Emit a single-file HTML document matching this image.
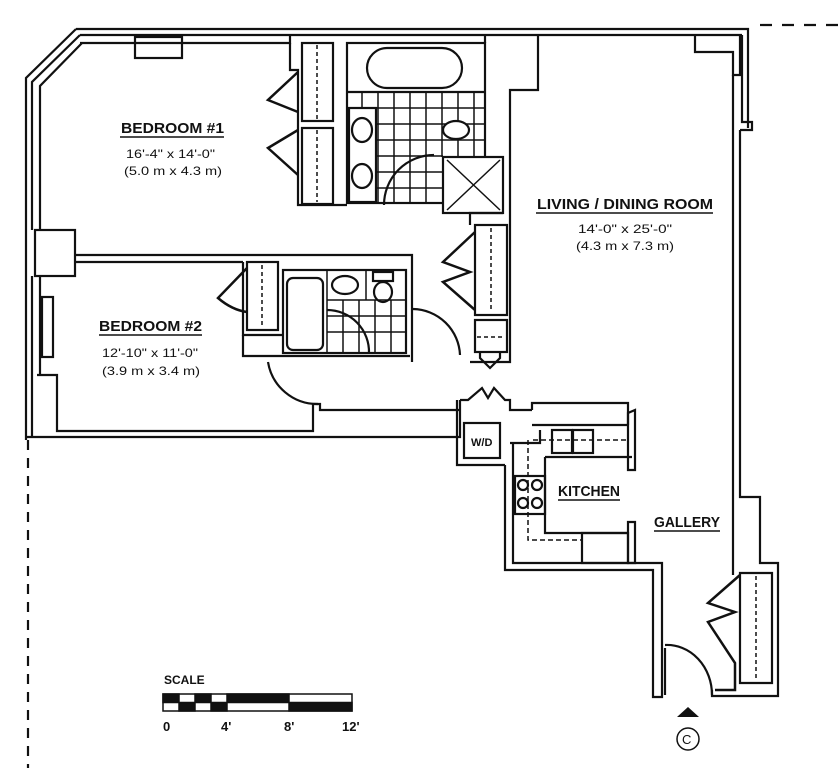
<!DOCTYPE html>
<html><head><meta charset="utf-8"><style>
html,body{margin:0;padding:0;background:#fff}
svg{display:block}
text{font-family:"Liberation Sans",sans-serif;fill:#111}
</style></head><body>
<svg width="838" height="768" viewBox="0 0 838 768" xmlns="http://www.w3.org/2000/svg">
<g fill="none" stroke="#111" stroke-width="2.2">
<path d="M76 29 L748 29 L748 128"/>
<path d="M80 35 L742 35"/>
<path d="M760 25 L838 25" stroke-dasharray="12 10"/>
<path d="M76 29 L26 78 L26 440"/>
<path d="M80 35 L32 82 L32 230"/>
<path d="M82 43 L40 86 L40 230"/>
<path d="M80 43 L290 43 L290 36"/>
<rect x="135" y="37" width="47" height="21"/>
<rect x="35" y="230" width="40" height="46"/>
<path d="M75 255 L412 255 L412 362"/>
<path d="M75 262 L243 262"/>
<path d="M32 276 L32 437"/>
<path d="M40 276 L40 375"/>
<rect x="42" y="297" width="11" height="60"/>
<path d="M37 375 L57 375 L57 431 L313 431 L313 404 L320 404 L320 410 L460 410"/>
<path d="M26 437 L460 437 L460 400"/>
<path d="M28 440 L28 768" stroke-dasharray="10 8"/>
<path d="M290 43 L290 70 L298 70 L298 205 L347 205"/>
<rect x="302" y="43" width="31" height="78"/>
<rect x="302" y="128" width="31" height="76"/>
<path d="M317 45 L317 119 M317 130 L317 202" stroke-dasharray="4 3" stroke-width="1.5"/>
<path d="M298 72 L268 100 L298 112 M298 130 L268 148 L298 175" stroke-width="2.5"/>
<rect x="347" y="43" width="138" height="160"/>
<path d="M347 92 L485 92"/>
<rect x="367" y="48" width="95" height="40" rx="20"/>
<g stroke-width="1.5">
<path d="M347 108 H485 M347 124 H485 M347 140 H485 M347 156 H443 M347 172 H443 M347 188 H443"/>
<path d="M362 92 V203 M378 92 V203 M394 92 V203 M410 92 V203 M426 92 V203 M442 92 V157 M458 92 V157 M474 92 V157"/>
</g>
<rect x="349" y="108" width="27" height="94" fill="#fff"/>
<ellipse cx="362" cy="130" rx="10" ry="12" fill="#fff"/>
<ellipse cx="362" cy="176" rx="10" ry="12" fill="#fff"/>
<ellipse cx="456" cy="130" rx="13" ry="9" fill="#fff"/>
<path d="M384 205 A50 50 0 0 1 434 155"/>
<rect x="443" y="157" width="60" height="56" fill="#fff"/>
<path d="M447 160 L500 210 M500 160 L447 210" stroke-width="1.5"/>
<path d="M485 36 L485 43 M538 35 L538 90 L510 90 L510 362 L470 362"/>
<path d="M503 213 L470 213 L470 225"/>
<rect x="475" y="225" width="32" height="90"/>
<path d="M491 228 L491 312" stroke-dasharray="4 3" stroke-width="1.5"/>
<path d="M475 232 L443 262 L470 272 L443 282 L475 310" stroke-width="2.5"/>
<rect x="475" y="320" width="32" height="32"/>
<path d="M477 337 L505 337" stroke-dasharray="4 3" stroke-width="1.5"/>
<path d="M480 352 L480 358 L490 368 L500 358 L500 352"/>
<path d="M243 262 L243 335 L283 335"/>
<rect x="247" y="262" width="31" height="68"/>
<path d="M262 265 L262 328" stroke-dasharray="4 3" stroke-width="1.5"/>
<path d="M247 268 L218 298 Q232 310 247 312" stroke-width="2.5"/>
<path d="M243 335 L243 356 L410 356"/>
<rect x="283" y="270" width="123" height="83"/>
<rect x="287" y="278" width="36" height="72" rx="6"/>
<g stroke-width="1.5">
<path d="M327 300 H406 M327 316 H406 M327 332 H406"/>
<path d="M343 300 V353 M359 300 V353 M375 300 V353 M391 300 V353 M327 270 V353 M366 270 V300"/>
</g>
<ellipse cx="345" cy="285" rx="13" ry="9"/>
<rect x="373" y="272" width="20" height="9"/>
<ellipse cx="383" cy="292" rx="9" ry="10"/>
<path d="M327 310 A42 42 0 0 1 369 353"/>
<path d="M413 309 A48 48 0 0 1 460 355"/>
<path d="M268 362 A50 50 0 0 0 318 404"/>
<path d="M460 400 L468 400 L482 388 L488 398 L494 388 L505 400 L510 400 L510 410 L532 410"/>
<path d="M457 400 L457 465 L505 465"/>
<rect x="464" y="423" width="36" height="35"/>
<path d="M532 410 L532 403 L628 403 L628 425"/>
<path d="M532 425 L628 425"/>
<path d="M628 413 L628 470 L635 470 L635 410 Z"/>
<path d="M510 443 L540 443 L540 430"/>
<path d="M505 465 L505 570 L653 570 L653 697 L662 697 L662 563 L513 563 L513 443"/>
<rect x="552" y="430" width="20" height="23"/>
<rect x="573" y="430" width="20" height="23"/>
<path d="M533 440 L628 440 M528 440 L528 540 L582 540" stroke-dasharray="5 3" stroke-width="1.5"/>
<rect x="515" y="476" width="30" height="38"/>
<circle cx="523" cy="485" r="5"/><circle cx="537" cy="485" r="5"/>
<circle cx="523" cy="503" r="5"/><circle cx="537" cy="503" r="5"/>
<path d="M545 457 L632 457 M545 457 L545 533 L628 533"/>
<rect x="582" y="533" width="46" height="30"/>
<path d="M628 522 L628 563 L635 563 L635 522 Z"/>
<path d="M695 35 L695 52 L733 52 L733 75 L740 75 L740 35"/>
<path d="M742 35 L742 122 L752 122 L752 130 L740 130"/>
<path d="M733 75 L733 575"/>
<path d="M740 130 L740 497 L760 497 L760 563 L778 563 L778 696 L712 696 L712 690"/>
<path d="M740 573 L772 573 L772 683 L740 683 Z"/>
<path d="M756 576 L756 680" stroke-dasharray="4 3" stroke-width="1.5"/>
<path d="M740 575 L708 603 L735 612 L708 622 L735 663 L735 690 L715 690" stroke-width="2.5"/>
<path d="M665 648 L665 695"/>
<path d="M665 645 A45 50 0 0 1 712 695"/>
</g>
<g font-size="14">
<text x="121" y="133" font-size="15" font-weight="bold" textLength="103" lengthAdjust="spacingAndGlyphs">BEDROOM #1</text>
<path d="M120 137 H224" stroke="#111" stroke-width="1.5"/>
<text x="126" y="158" font-size="12" textLength="89" lengthAdjust="spacingAndGlyphs">16'-4" x 14'-0"</text>
<text x="124" y="175" font-size="12" textLength="98" lengthAdjust="spacingAndGlyphs">(5.0 m x 4.3 m)</text>
<text x="99" y="331" font-size="15" font-weight="bold" textLength="103" lengthAdjust="spacingAndGlyphs">BEDROOM #2</text>
<path d="M99 335 H202" stroke="#111" stroke-width="1.5"/>
<text x="102" y="357" font-size="12" textLength="96" lengthAdjust="spacingAndGlyphs">12'-10" x 11'-0"</text>
<text x="102" y="375" font-size="12" textLength="98" lengthAdjust="spacingAndGlyphs">(3.9 m x 3.4 m)</text>
<text x="537" y="209" font-size="15" font-weight="bold" textLength="176" lengthAdjust="spacingAndGlyphs">LIVING / DINING ROOM</text>
<path d="M536 213 H713" stroke="#111" stroke-width="1.5"/>
<text x="578" y="233" font-size="12" textLength="94" lengthAdjust="spacingAndGlyphs">14'-0" x 25'-0"</text>
<text x="576" y="250" font-size="12" textLength="98" lengthAdjust="spacingAndGlyphs">(4.3 m x 7.3 m)</text>
<text x="471" y="446" font-size="11" font-weight="bold">W/D</text>
<text x="558" y="496" font-size="15" font-weight="bold" textLength="62" lengthAdjust="spacingAndGlyphs">KITCHEN</text>
<path d="M558 500 H620" stroke="#111" stroke-width="1.5"/>
<text x="654" y="527" font-size="15" font-weight="bold" textLength="66" lengthAdjust="spacingAndGlyphs">GALLERY</text>
<path d="M654 531 H720" stroke="#111" stroke-width="1.5"/>
<text x="164" y="684" font-size="12" font-weight="bold">SCALE</text>
<text x="163" y="731" font-size="13" font-weight="bold">0</text>
<text x="221" y="731" font-size="13" font-weight="bold">4'</text>
<text x="284" y="731" font-size="13" font-weight="bold">8'</text>
<text x="342" y="731" font-size="13" font-weight="bold">12'</text>
</g>
<g stroke="#111" stroke-width="1.5">
<rect x="163" y="694" width="189" height="17" fill="#fff"/>
<rect x="163" y="694" width="16" height="8.5" fill="#111"/>
<rect x="179" y="702.5" width="16" height="8.5" fill="#111"/>
<rect x="195" y="694" width="16" height="8.5" fill="#111"/>
<rect x="211" y="702.5" width="16" height="8.5" fill="#111"/>
<rect x="227" y="694" width="62" height="8.5" fill="#111"/>
<rect x="289" y="702.5" width="63" height="8.5" fill="#111"/>
</g>
<path d="M677 717 L688 707 L699 717 Z" fill="#111"/>
<circle cx="688" cy="739" r="11" fill="none" stroke="#111" stroke-width="1.5"/>
<text x="682" y="744" font-size="13">C</text>
</svg>
</body></html>
